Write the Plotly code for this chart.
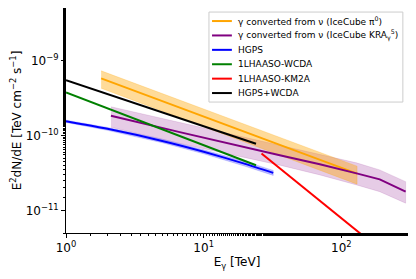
import plotly.graph_objects as go

# ---- data ----
orange_E = [1.8, 130]
orange_mid = [5.78e-10, 3.10e-11]
orange_hi = [7.28e-10, 3.89e-11]
orange_lo = [4.27e-10, 2.24e-11]

purple_E = [2.12, 6.7, 35.7, 69.7, 129, 190, 293]
purple_mid = [1.837e-10, 1.107e-10, 5.45e-11, 4.14e-11, 3.12e-11, 2.60e-11, 1.78e-11]
purple_hi = [2.415e-10, 1.50e-10, 7.38e-11, 5.6e-11, 4.31e-11, 3.47e-11, 2.42e-11]
purple_lo = [1.288e-10, 7.83e-11, 4.02e-11, 2.98e-11, 2.19e-11, 1.78e-11, 1.25e-11]

hgps_E = [1, 2, 5, 10, 20, 32]
hgps_mid = [1.545e-10, 1.225e-10, 8.45e-11, 6.07e-11, 4.18e-11, 3.17e-11]
hgps_hi = [1.60e-10, 1.28e-10, 8.9e-11, 6.45e-11, 4.5e-11, 3.42e-11]
hgps_lo = [1.49e-10, 1.17e-10, 8.0e-11, 5.7e-11, 3.88e-11, 2.93e-11]

wcda_E = [1, 10, 24]
wcda_mid = [3.75e-10, 7.4e-11, 4.0e-11]

km2a_E = [26.3, 300]
km2a_mid = [5.73e-11, 1.54e-12]

comb_E = [1, 10, 24]
comb_mid = [5.45e-10, 1.34e-10, 7.76e-11]

x_tickvals = [1, 10, 100]
x_ticktext = ["10<sup>0</sup>", "10<sup>1</sup>", "10<sup>2</sup>"]
y_tickvals = [1e-11, 1e-10, 1e-9]
y_ticktext = ["10<sup>\u221211</sup>", "10<sup>\u221210</sup>", "10<sup>\u22129</sup>"]

labels = [
    "\u03b3 converted from \u03bd (IceCube \u03c0<sup>0</sup>)",
    "\u03b3 converted from \u03bd (IceCube KRA<sub>\u03b3</sub><sup>5</sup>)",
    "HGPS",
    "1LHAASO-WCDA",
    "1LHAASO-KM2A",
    "HGPS+WCDA",
]
colors = ["orange", "purple", "blue", "green", "red", "black"]

fig = go.Figure()


def band(E, lo, hi, color):
    fig.add_trace(go.Scatter(x=list(E) + list(E)[::-1], y=list(hi) + list(lo)[::-1],
                             fill="toself", fillcolor=color, mode="lines",
                             line=dict(width=0.6, color=color), showlegend=False,
                             hoverinfo="skip"))


band(purple_E, purple_lo, purple_hi, "rgba(128,0,128,0.2)")
band(orange_E, orange_lo, orange_hi, "rgba(255,165,0,0.4)")
band(hgps_E, hgps_lo, hgps_hi, "rgba(0,0,255,0.25)")

series = [
    (orange_E, orange_mid, "linear"),
    (purple_E, purple_mid, "linear"),
    (hgps_E, hgps_mid, "spline"),
    (wcda_E, wcda_mid, "linear"),
    (km2a_E, km2a_mid, "linear"),
    (comb_E, comb_mid, "linear"),
]
for (E, v, shape), name, col in zip(series, labels, colors):
    fig.add_trace(go.Scatter(x=E, y=v, mode="lines", name=name, showlegend=False,
                             line=dict(color=col, width=2, shape=shape,
                                       smoothing=0.6 if shape == "spline" else None)))

# legend drawn compactly (matplotlib style) in paper coordinates
lx0, lx1, ly0, ly1 = 0.418, 0.985, 0.582, 0.982
fig.add_shape(type="rect", xref="paper", yref="paper", x0=lx0, x1=lx1, y0=ly0, y1=ly1,
              line=dict(color="#cccccc", width=1), fillcolor="rgba(255,255,255,0.85)",
              layer="above")
row_y = [0.942, 0.878, 0.814, 0.750, 0.686, 0.622]
for yy, name, col in zip(row_y, labels, colors):
    fig.add_shape(type="line", xref="paper", yref="paper", x0=0.427, x1=0.485, y0=yy, y1=yy,
                  line=dict(color=col, width=2), layer="above")
    fig.add_annotation(x=0.497, y=yy, xref="paper", yref="paper", text=name,
                       showarrow=False, xanchor="left", yanchor="middle",
                       font=dict(size=9, color="black"))

axis_common = dict(type="log", showgrid=False, zeroline=False, showline=True,
                   linecolor="black", linewidth=1, mirror=True, ticks="outside",
                   ticklen=4, tickcolor="black", tickfont=dict(size=12, color="black"),
                   automargin=False,
                   minor=dict(ticks="outside", ticklen=2, tickcolor="black", showgrid=False))

fig.update_xaxes(range=[0, 2.484], tickvals=x_tickvals, ticktext=x_ticktext,
                 title=dict(text="E<sub>\u03b3</sub> [TeV]", font=dict(size=12, color="black"),
                            standoff=2), **axis_common)
fig.update_yaxes(range=[-11.301, -8.30], tickvals=y_tickvals, ticktext=y_ticktext,
                 title=dict(text="E<sup>2</sup>dN/dE [TeV cm<sup>\u22122</sup> s<sup>\u22121</sup>]",
                            font=dict(size=12, color="black"), standoff=6), **axis_common)

# the page body adds an 8px offset, so the figure is sized to fit the window
fig.update_layout(
    width=408, height=271,
    margin=dict(l=58, r=8, t=0, b=46, autoexpand=False),
    paper_bgcolor="white", plot_bgcolor="white",
    font=dict(family="DejaVu Sans", color="black"),
    showlegend=False,
)

fig.write_html("out.html")
